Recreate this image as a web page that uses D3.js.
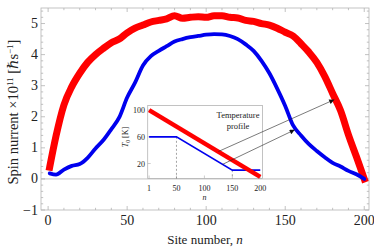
<!DOCTYPE html>
<html>
<head>
<meta charset="utf-8">
<script src="https://cdn.jsdelivr.net/npm/d3@7"></script>
<style>
  body { margin: 0; background: #fff; }
  svg { display: block; }
  text { font-family: "Liberation Serif", "DejaVu Serif", serif; fill: #222; }
</style>
</head>
<body>
<div id="chart"></div>
<script>
var sites = [1, 5, 10, 15, 20, 25, 30, 35, 40, 45, 50, 55, 60, 65, 70, 75, 80, 85, 90, 95, 100,
             105, 110, 115, 120, 125, 130, 135, 140, 145, 150, 155, 160, 165, 170, 175, 180, 185, 190, 195, 200];
var redCurrent = [0.38, 1.38, 2.38, 2.97, 3.4, 3.75, 4.0, 4.2, 4.38, 4.5, 4.7, 4.85, 4.95, 5.05, 5.1, 5.15, 5.25, 5.17, 5.2, 5.22, 5.2,
                  5.25, 5.25, 5.2, 5.18, 5.1, 5.07, 5.0, 4.95, 4.85, 4.72, 4.6, 4.35, 4.08, 3.75, 3.3, 2.75, 2.2, 1.42, 0.72, 0.0];
var blueCurrent = [0.18, 0.14, 0.3, 0.42, 0.48, 0.68, 0.98, 1.25, 1.6, 1.98, 2.62, 3.1, 3.65, 3.95, 4.12, 4.27, 4.42, 4.5, 4.56, 4.6, 4.64,
                   4.66, 4.65, 4.6, 4.5, 4.33, 4.12, 3.8, 3.4, 2.9, 2.35, 1.72, 1.4, 1.12, 0.9, 0.7, 0.52, 0.4, 0.26, 0.15, 0.0];

var xTicks = [0, 50, 100, 150, 200];
var yTicks = [-1, 0, 1, 2, 3, 4, 5];

// inset: temperature profiles
var profSites = [1, 200];
var redProfile = [100, 0];
var blueSites = [1, 50, 150, 200];
var blueProfile = [60, 60, 10, 10];
var insetXTicks = [1, 50, 100, 150, 200];
var insetYTicks = [20, 60, 100];
var dashedAt = [50, 150];

var width = 374, height = 250;
var svg = d3.select('#chart').append('svg')
    .attr('width', width)
    .attr('height', height);

var x = d3.scaleLinear().domain([-4.5, 203]).range([41, 369]);
var y = d3.scaleLinear().domain([-1, 5.5]).range([210, 8]);

var frameColor = '#b4b4b4';

// zero line
svg.append('line')
    .attr('x1', x.range()[0]).attr('x2', x.range()[1])
    .attr('y1', y(0)).attr('y2', y(0))
    .attr('stroke', frameColor).attr('stroke-width', 0.8);

// frame ticks (inward, all four sides)
var xMinor = d3.range(0, 201, 10);
var yMinor = d3.range(-1, 5.41, 0.2);
var ticksG = svg.append('g').attr('stroke', '#999').attr('stroke-width', 0.6);
xMinor.forEach(function(t) {
  var len = (t % 50 === 0) ? 4 : 2.2;
  ticksG.append('line').attr('x1', x(t)).attr('x2', x(t)).attr('y1', y.range()[0]).attr('y2', y.range()[0] - len);
  ticksG.append('line').attr('x1', x(t)).attr('x2', x(t)).attr('y1', y.range()[1]).attr('y2', y.range()[1] + len);
});
yMinor.forEach(function(t) {
  var major = Math.abs(t - Math.round(t)) < 1e-6;
  var len = major ? 4 : 2.2;
  ticksG.append('line').attr('y1', y(t)).attr('y2', y(t)).attr('x1', x.range()[0]).attr('x2', x.range()[0] + len);
  ticksG.append('line').attr('y1', y(t)).attr('y2', y(t)).attr('x1', x.range()[1]).attr('x2', x.range()[1] - len);
});

svg.append('rect')
    .attr('x', x.range()[0]).attr('y', y.range()[1])
    .attr('width', x.range()[1] - x.range()[0])
    .attr('height', y.range()[0] - y.range()[1])
    .attr('fill', 'none').attr('stroke', frameColor).attr('stroke-width', 0.8);

// tick labels
svg.append('g').selectAll('text').data(xTicks).enter().append('text')
    .attr('x', function(d) { return x(d); })
    .attr('y', 225)
    .attr('text-anchor', 'middle')
    .style('font-size', '14px')
    .text(function(d) { return d; });

svg.append('g').selectAll('text').data(yTicks).enter().append('text')
    .attr('x', 38)
    .attr('y', function(d) { return y(d) + 4.5; })
    .attr('text-anchor', 'end')
    .style('font-size', '14px')
    .text(function(d) { return d < 0 ? '\u22121' : d; });

// axis titles
var xl = svg.append('text')
    .attr('x', 205).attr('y', 244)
    .attr('text-anchor', 'middle')
    .style('font-size', '13px');
xl.append('tspan').text('Site number, ');
xl.append('tspan').style('font-style', 'italic').text('n');

var yl = svg.append('text')
    .attr('transform', 'translate(18,112) rotate(-90)')
    .attr('text-anchor', 'middle')
    .style('font-size', '14.5px');
yl.append('tspan').text('Spin nurrent \u00d710');
yl.append('tspan').attr('dy', -5.5).style('font-size', '9px').text('11');
yl.append('tspan').attr('dy', 5.5).text(' [\u210fs');
yl.append('tspan').attr('dy', -5.5).style('font-size', '9px').text('\u22121');
yl.append('tspan').attr('dy', 5.5).text(']');

// curves
var curveLine = d3.line()
    .x(function(d, i) { return x(sites[i]); })
    .y(function(d) { return y(d); })
    .curve(d3.curveMonotoneX);

svg.append('path')
    .datum(redCurrent)
    .attr('d', curveLine)
    .attr('fill', 'none')
    .attr('stroke', '#ff0000')
    .attr('stroke-width', 7)
    .attr('stroke-linecap', 'square');

svg.append('path')
    .datum(blueCurrent)
    .attr('d', curveLine)
    .attr('fill', 'none')
    .attr('stroke', '#0000ee')
    .attr('stroke-width', 3.8)
    .attr('stroke-linecap', 'round');

// inset
var ix = d3.scaleLinear().domain([-1.5, 204]).range([147.7, 262.5]);
var iy = d3.scaleLinear().domain([-2.5, 107]).range([178.5, 105.5]);

var inset = svg.append('g');
var iticks = inset.append('g').attr('stroke', '#999').attr('stroke-width', 0.5);
insetXTicks.forEach(function(t) {
  iticks.append('line').attr('x1', ix(t)).attr('x2', ix(t)).attr('y1', iy.range()[0]).attr('y2', iy.range()[0] - 3);
});
insetYTicks.forEach(function(t) {
  iticks.append('line').attr('y1', iy(t)).attr('y2', iy(t)).attr('x1', ix.range()[0]).attr('x2', ix.range()[0] + 3);
});

inset.append('rect')
    .attr('x', ix.range()[0]).attr('y', iy.range()[1])
    .attr('width', ix.range()[1] - ix.range()[0])
    .attr('height', iy.range()[0] - iy.range()[1])
    .attr('fill', 'none').attr('stroke', frameColor).attr('stroke-width', 0.8);

var blueAt = d3.scaleLinear().domain(blueSites).range(blueProfile);
inset.selectAll('line.dash').data(dashedAt).enter().append('line')
    .attr('class', 'dash')
    .attr('x1', function(d) { return ix(d); })
    .attr('x2', function(d) { return ix(d); })
    .attr('y1', function(d) { return iy(blueAt(d)); })
    .attr('y2', iy.range()[0])
    .attr('stroke', '#666').attr('stroke-width', 0.6)
    .attr('stroke-dasharray', '2,2');

inset.append('path')
    .datum(blueProfile)
    .attr('d', d3.line().x(function(d, i) { return ix(blueSites[i]); }).y(function(d) { return iy(d); }))
    .attr('fill', 'none').attr('stroke', '#0000ee').attr('stroke-width', 1.6);

inset.append('path')
    .datum(redProfile)
    .attr('d', d3.line().x(function(d, i) { return ix(profSites[i]); }).y(function(d) { return iy(d); }))
    .attr('fill', 'none').attr('stroke', '#ff0000').attr('stroke-width', 4.5);

inset.selectAll('text.ixt').data(insetXTicks).enter().append('text')
    .attr('class', 'ixt')
    .attr('x', function(d) { return ix(d); })
    .attr('y', 191)
    .attr('text-anchor', 'middle')
    .style('font-size', '8px')
    .text(function(d) { return d; });

inset.selectAll('text.iyt').data(insetYTicks).enter().append('text')
    .attr('class', 'iyt')
    .attr('x', 145)
    .attr('y', function(d) { return iy(d) + 3; })
    .attr('text-anchor', 'end')
    .style('font-size', '8px')
    .text(function(d) { return d; });

inset.append('text')
    .attr('x', ix(100)).attr('y', 200)
    .attr('text-anchor', 'middle')
    .style('font-size', '8px').style('font-style', 'italic')
    .text('n');

var tl = inset.append('text')
    .attr('transform', 'translate(128,137) rotate(-90)')
    .attr('text-anchor', 'middle')
    .style('font-size', '8px');
tl.append('tspan').style('font-style', 'italic').text('T');
tl.append('tspan').attr('dy', 1.5).style('font-size', '5.5px').text('0');
tl.append('tspan').attr('dy', -1.5).text(' [K]');

inset.append('text').attr('x', 238).attr('y', 118)
    .attr('text-anchor', 'middle').style('font-size', '8.5px').text('Temperature');
inset.append('text').attr('x', 238).attr('y', 129)
    .attr('text-anchor', 'middle').style('font-size', '8.5px').text('profile');

// arrows from inset profiles to the main curves
svg.append('defs').append('marker')
    .attr('id', 'head')
    .attr('viewBox', '0 0 10 10')
    .attr('refX', 10).attr('refY', 5)
    .attr('markerWidth', 7).attr('markerHeight', 5)
    .attr('markerUnits', 'userSpaceOnUse')
    .attr('orient', 'auto')
  .append('path').attr('d', 'M0,0 L10,5 L0,10 z').attr('fill', '#111');

var arrows = [
  { x1: ix(125), y1: iy(38), x2: x(181), y2: y(2.55) },
  { x1: ix(132), y1: iy(18.5), x2: x(156), y2: y(1.58) }
];
svg.selectAll('line.arrow').data(arrows).enter().append('line')
    .attr('class', 'arrow')
    .attr('x1', function(d) { return d.x1; })
    .attr('y1', function(d) { return d.y1; })
    .attr('x2', function(d) { return d.x2; })
    .attr('y2', function(d) { return d.y2; })
    .attr('stroke', '#222').attr('stroke-width', 0.6)
    .attr('marker-end', 'url(#head)');
</script>
</body>
</html>
